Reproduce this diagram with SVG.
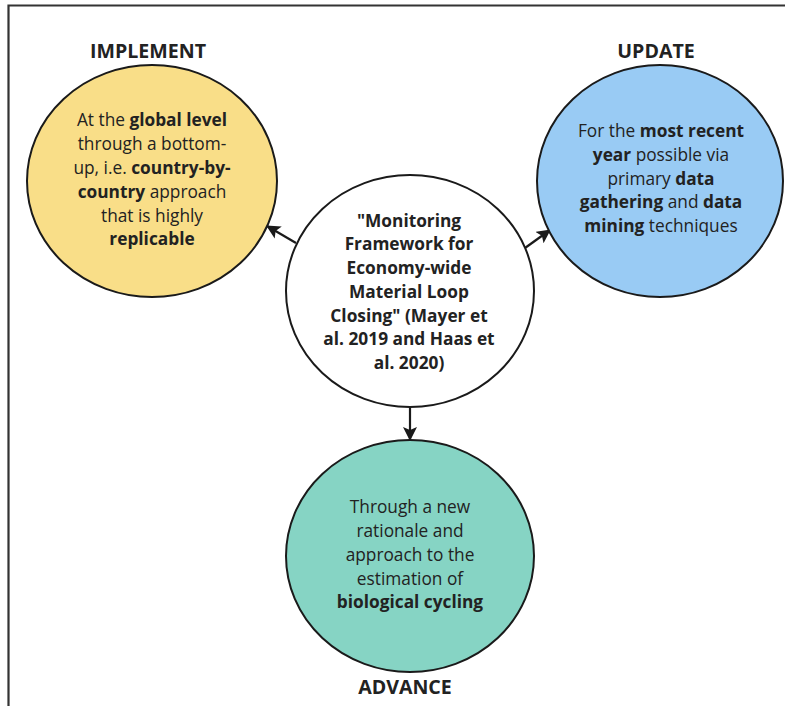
<svg xmlns="http://www.w3.org/2000/svg" width="785" height="706" viewBox="0 0 785 706">
<defs>
<marker id="ah" markerUnits="userSpaceOnUse" markerWidth="14" markerHeight="14" refX="13" refY="7" orient="auto">
<path d="M0,0 L14,7 L0,14 L3,7 z" fill="#1a1a1a"/>
</marker>
<style>
text{font-family:"Open Sans","DejaVu Sans",sans-serif;fill:#222;text-anchor:middle}
.lbl{font-size:19.6px;font-weight:700}
.body{font-size:17.3px}
.b{font-weight:700}
.node{stroke:#1a1a1a;stroke-width:2}
.conn{stroke:#1a1a1a;stroke-width:2.2;fill:none;marker-end:url(#ah)}
</style>
</defs>
<rect width="785" height="706" fill="#fff"/>
<path d="M8.5,706 V5.5 H785" fill="none" stroke="#333" stroke-width="2.2"/>
<g id="connectors">
<line class="conn" x1="296" y1="243" x2="267" y2="226"/>
<line class="conn" x1="525" y1="248" x2="550" y2="230"/>
<line class="conn" x1="410" y1="408" x2="410" y2="440"/>
</g>
<g id="implement">
<text class="lbl" x="148" y="58">IMPLEMENT</text>
<ellipse class="node" cx="152" cy="181" rx="125" ry="116" fill="#F9DE88"/>
<text class="body" x="152" y="126">At the <tspan class="b">global level</tspan></text>
<text class="body" x="152" y="150">through a bottom-</text>
<text class="body" x="152" y="174">up, i.e. <tspan class="b">country-by-</tspan></text>
<text class="body" x="152" y="198"><tspan class="b">country</tspan> approach</text>
<text class="body" x="152" y="222">that is highly</text>
<text class="body" x="152" y="245"><tspan class="b">replicable</tspan></text>
</g>
<g id="update">
<text class="lbl" x="656" y="58">UPDATE</text>
<ellipse class="node" cx="660" cy="181" rx="123" ry="116" fill="#99CBF4"/>
<text class="body" x="661" y="137">For the <tspan class="b">most recent</tspan></text>
<text class="body" x="661" y="161"><tspan class="b">year</tspan> possible via</text>
<text class="body" x="661" y="185">primary <tspan class="b">data</tspan></text>
<text class="body" x="661" y="208"><tspan class="b">gathering</tspan> and <tspan class="b">data</tspan></text>
<text class="body" x="661" y="232"><tspan class="b">mining</tspan> techniques</text>
</g>
<g id="framework">
<ellipse class="node" cx="410" cy="291" rx="124" ry="116" fill="#fff"/>
<text class="body b" x="409" y="227">"Monitoring</text>
<text class="body b" x="409" y="250">Framework for</text>
<text class="body b" x="409" y="274">Economy-wide</text>
<text class="body b" x="409" y="298">Material Loop</text>
<text class="body b" x="409" y="322">Closing" (Mayer et</text>
<text class="body b" x="409" y="345">al. 2019 and Haas et</text>
<text class="body b" x="409" y="369">al. 2020)</text>
</g>
<g id="advance">
<ellipse class="node" cx="410" cy="556" rx="124" ry="116" fill="#86D4C4"/>
<text class="body" x="410" y="513">Through a new</text>
<text class="body" x="410" y="537">rationale and</text>
<text class="body" x="410" y="561">approach to the</text>
<text class="body" x="410" y="585">estimation of</text>
<text class="body" x="410" y="608"><tspan class="b">biological cycling</tspan></text>
<text class="lbl" x="405" y="694">ADVANCE</text>
</g>
</svg>
